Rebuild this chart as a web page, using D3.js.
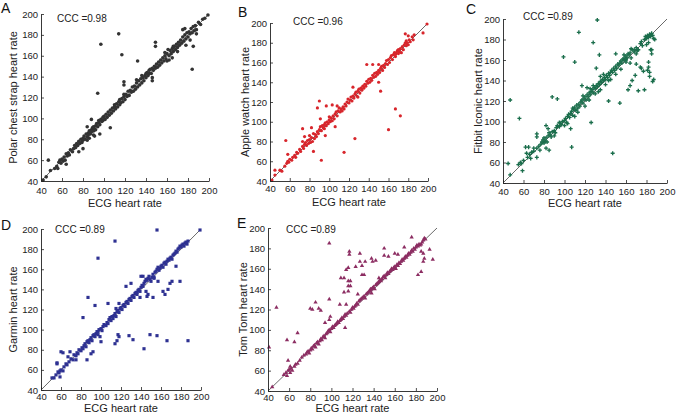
<!DOCTYPE html>
<html><head><meta charset="utf-8">
<script src="https://cdn.jsdelivr.net/npm/d3@7"></script>
<style>
html,body{margin:0;padding:0;background:#fff;}
svg{display:block;font-family:"Liberation Sans",Arial,Helvetica,sans-serif;}
</style></head>
<body><svg id="c" width="677" height="413"></svg>
<script>
const ticks = [40, 60, 80, 100, 120, 140, 160, 180, 200];
const panelLetters = ["A", "B", "C", "D", "E"];
const yTitles = ["Polar chest strap heart rate", "Apple watch heart rate", "Fitbit Iconic heart rate", "Garmin heart rate", "Tom Tom heart rate"];
const xTitle = "ECG heart rate";
const cccLabels = ["CCC =0.98", "CCC =0.96", "CCC =0.89", "CCC =0.89", "CCC =0.89"];

const polar = [[42,41],[45,44],[47,60],[49,50],[53,52],[55,54],[56,52],[57,58],[58,60],[59,57],[60,61],[61,59],[62,63],[63,60],[64,56],[64,66],[65,64],[66,67],[67,65],[68,70],[70,68],[71,71],[72,74],
[73,72],[74,76],[75,74],[76,68],[76,78],[77,76],[78,80],[79,77],[80,71],[80,81],[80,79],[81,83],[82,80],[83,85],[84,92],[84,82],[84,79],[85,86],[85,84],[86,88],[86,81],[87,85],[88,89],[88,99],[88,87],[89,91],[90,88],[90,84],[90,92],[91,90],[91,83],[92,93],[92,89],[93,95],[94,92],[94,124],[95,96],[95,98],[96,94],[96,85],[97,99],[97,171],[98,97],[99,101],[99,98],
[100,102],[101,99],[102,104],[103,101],[104,106],[105,103],[106,108],[106,91],[107,105],[108,110],[109,107],[110,111],[110,113],[111,109],[112,114],[113,111],[114,116],[114,181],[115,113],[115,118],[116,115],[117,119],[117,161],[118,116],[119,121],[119,123],[119,135],[119,132],[120,118],[121,123],[122,121],[123,126],[124,122],[125,127],[126,125],[127,130],[128,126],[129,131],[130,128],
[131,134],[131,137],[132,130],[132,155],[133,136],[134,132],[135,138],[136,134],[136,141],[137,139],[138,136],[139,141],[140,143],[140,139],[141,144],[142,141],[143,146],[143,143],[144,147],[145,143],[146,139],[146,136],[146,148],[147,146],[148,150],[149,148],[149,173],[149,169],[150,152],[151,149],[152,154],[153,151],[154,156],[155,153],[156,158],[157,155],[158,160],[158,163],[159,157],[160,162],[160,155],[161,166],[162,160],[162,156],[163,165],[164,162],[165,167],[165,158],[166,169],[166,164],[167,169],[168,166],[169,171],[170,168],[170,164],[171,173],[172,170],[173,175],[174,172],[175,178],[175,185],[176,174],[177,180],[177,186],[178,176],[178,170],[179,182],[180,178],[181,183],[182,181],[182,175],[183,186],[184,182],[184,147],[185,188],[185,169],[186,184],[187,189],[188,185],[188,181],[190,192],[192,190],[194,195],[196,196],[199,199]];

const apple = [[42,41],[45,46],[45,51],[50,51],[52,50],[55,55],[56,81],[57,58],[58,60],[58,67],[59,59],[60,62],[62,61],[63,64],[65,66],[66,64],[67,69],[68,68],[70,72],[71,70],[73,75],[73,93],[73,80],[74,73],[75,77],[75,85],[76,79],[77,76],[78,81],[79,78],[80,82],[80,86],[81,79],[82,84],[82,94],[83,80],[84,88],[84,70],[85,83],[86,87],[87,85],[88,90],[88,114],[89,88],[90,92],[90,121],[91,95],[91,103],[92,91],[92,61],[93,96],[94,94],[95,97],[95,93],[96,99],[96,86],[97,96],[97,116],[98,100],[99,98],[100,102],[100,105],[101,100],[102,104],[103,101],[103,117],[104,106],[105,103],[106,108],[106,95],[107,110],[108,106],[108,116],[109,111],[110,114],[111,110],[112,113],[113,111],[114,115],[115,113],[115,69],[116,118],[117,116],[118,120],[119,123],[120,119],[121,122],[122,125],[123,121],[124,126],[124,135],[125,124],[126,128],[126,83],[127,130],[128,126],[129,131],[129,125],[130,133],[131,129],[132,134],[133,132],[134,136],[135,134],[136,138],[137,136],[138,141],[138,158],[139,139],[140,143],[141,140],[142,144],[143,142],[144,147],[144,158],[145,145],[146,149],[147,146],[148,150],[149,148],[150,152],[150,158],[150,140],[151,150],[152,154],[152,131],[153,156],[154,152],[155,157],[156,155],[157,159],[158,162],[159,158],[160,163],[160,92],[161,160],[162,165],[163,167],[164,163],[165,168],[166,170],[167,166],[167,113],[167,168],[168,170],[169,172],[170,169],[170,173],[171,171],[172,174],[172,106],[173,170],[174,176],[175,173],[176,178],[177,180],[177,189],[178,177],[178,182],[179,180],[180,178],[180,187],[181,183],[182,181],[184,186],[185,183],[186,188],[195,190],[199,199]];

const fitbit = [[45,59],[47,48],[47,121],[55,58],[56,103],[57,60],[58,59],[59,52],[60,62],[62,75],[64,65],[65,75],[63,69],[66,68],[67,64],[68,70],[70,71],[70,74],[73,65],[73,74],[73,88],[73,85],[75,76],[76,72],[77,78],[78,80],[79,82],[80,79],[80,84],[81,81],[82,84],[82,96],[82,74],[83,80],[84,86],[84,93],[85,72],[85,89],[86,87],[87,85],[88,90],[88,124],[90,91],[90,86],[91,89],[92,94],[93,122],[93,96],[95,95],[95,99],[96,98],[97,97],[98,100],[99,163],[100,101],[100,96],[101,103],[102,99],[103,105],[103,98],[104,107],[105,104],[106,108],[106,93],[107,110],[107,75],[108,106],[108,113],[109,112],[110,114],[110,105],[110,158],[111,111],[112,116],[113,113],[113,109],[114,117],[114,187],[115,115],[116,119],[117,121],[117,135],[118,118],[118,125],[119,122],[120,124],[120,115],[121,121],[122,126],[122,133],[123,124],[124,128],[124,121],[125,126],[125,132],[126,129],[126,99],[127,131],[128,128],[128,135],[128,177],[129,133],[130,132],[130,127],[131,135],[131,152],[132,134],[132,199],[133,137],[133,129],[134,136],[134,165],[135,139],[135,131],[135,144],[136,138],[137,141],[138,140],[138,146],[139,143],[140,141],[140,136],[141,145],[142,143],[143,147],[143,140],[143,120],[144,145],[145,148],[145,141],[146,150],[147,148],[147,69],[148,152],[149,150],[150,154],[150,146],[150,166],[151,152],[152,156],[153,155],[154,157],[154,118],[155,159],[155,151],[156,157],[157,161],[158,160],[158,165],[159,162],[160,164],[160,160],[160,158],[161,162],[162,166],[162,131],[163,165],[164,157],[164,135],[164,167],[165,162],[165,171],[166,170],[166,140],[168,168],[168,170],[169,145],[170,172],[170,166],[170,156],[171,169],[172,170],[172,130],[174,176],[174,153],[175,152],[175,178],[176,174],[177,149],[178,180],[178,131],[179,183],[180,181],[181,184],[181,150],[182,182],[182,158],[182,153],[183,185],[183,148],[183,144],[184,183],[184,170],[185,186],[185,166],[186,184],[186,139],[187,181],[187,141],[188,180],[180,175],[182,177],[185,170]];

const garmin = [[51,52],[53,52],[55,55],[56,67],[56,66],[57,58],[58,57],[59,59],[59,53],[60,60],[60,78],[62,59],[62,77],[63,63],[65,66],[66,65],[67,73],[68,68],[69,78],[70,71],[72,70],[73,75],[75,74],[75,70],[76,77],[77,76],[78,80],[80,79],[81,82],[82,81],[82,112],[83,84],[84,86],[85,83],[86,70],[86,88],[87,89],[87,132],[88,87],[89,90],[90,92],[90,76],[91,89],[92,94],[92,78],[93,95],[94,93],[94,124],[95,96],[96,98],[97,95],[97,98],[97,171],[99,93],[100,88],[98,100],[100,101],[101,99],[102,103],[103,105],[105,104],[106,107],[107,106],[107,126],[108,110],[109,112],[110,109],[111,113],[112,111],[113,114],[114,116],[114,188],[114,86],[115,113],[115,121],[116,118],[116,89],[117,119],[117,95],[118,117],[118,126],[118,93],[119,121],[120,122],[121,120],[122,124],[123,125],[124,123],[125,127],[125,143],[126,128],[127,126],[128,130],[128,94],[129,131],[130,129],[130,146],[131,133],[132,134],[132,90],[133,132],[134,136],[135,137],[136,135],[136,137],[137,139],[138,140],[139,138],[139,132],[140,142],[140,153],[141,144],[142,143],[142,153],[143,146],[143,81],[144,148],[145,150],[145,138],[146,149],[146,133],[147,151],[147,135],[148,153],[149,150],[149,95],[150,148],[151,152],[152,155],[152,132],[153,151],[153,152],[154,157],[155,158],[156,160],[156,199],[156,94],[157,162],[157,148],[158,159],[159,161],[160,163],[161,164],[162,162],[162,138],[163,166],[164,167],[164,135],[165,165],[166,168],[166,89],[167,170],[167,140],[168,169],[169,171],[169,146],[170,172],[171,170],[171,148],[172,174],[173,175],[174,176],[175,178],[175,163],[176,177],[177,180],[178,181],[179,183],[179,148],[180,182],[181,184],[182,185],[183,183],[184,186],[185,187],[186,185],[187,188],[187,89],[199,199]];

const tomtom = [[41,83],[44,44],[48,122],[55,56],[57,58],[58,55],[58,90],[59,60],[59,70],[60,61],[61,58],[61,64],[62,62],[63,60],[65,64],[65,88],[66,66],[68,67],[68,97],[70,70],[72,73],[74,75],[76,76],[77,78],[78,79],[79,77],[80,80],[80,121],[81,82],[82,81],[82,120],[83,84],[84,85],[85,83],[85,127],[86,87],[87,88],[88,86],[88,121],[89,89],[90,91],[90,119],[91,90],[92,93],[93,94],[94,92],[94,107],[95,96],[96,97],[97,99],[98,100],[98,185],[98,110],[98,130],[99,98],[99,113],[100,101],[101,103],[102,102],[103,104],[104,105],[105,106],[106,108],[107,107],[108,109],[108,125],[109,110],[109,151],[110,112],[111,111],[112,113],[112,151],[113,102],[113,115],[114,114],[114,159],[114,125],[115,116],[116,161],[116,143],[116,148],[116,138],[117,177],[117,174],[117,118],[118,117],[118,143],[118,148],[112,137],[119,120],[120,122],[121,121],[122,123],[123,124],[123,162],[124,126],[125,125],[125,135],[126,128],[127,129],[127,175],[127,167],[128,130],[129,131],[129,163],[129,154],[130,132],[131,133],[131,154],[132,131],[132,167],[133,135],[134,136],[135,137],[136,138],[137,139],[137,140],[138,140],[138,170],[138,136],[139,141],[139,167],[140,142],[141,140],[142,144],[142,168],[143,145],[144,146],[145,147],[145,151],[146,149],[147,148],[148,150],[149,152],[150,153],[150,180],[150,173],[151,151],[152,154],[153,156],[154,155],[154,172],[155,157],[156,158],[157,160],[158,159],[159,161],[160,162],[160,175],[161,160],[162,164],[163,163],[163,174],[164,166],[165,165],[166,167],[167,169],[168,168],[169,170],[169,181],[170,172],[171,171],[172,173],[173,175],[174,174],[175,176],[176,178],[176,191],[177,177],[178,180],[179,179],[180,181],[181,183],[182,182],[182,154],[183,184],[184,183],[185,184],[185,177],[185,157],[186,186],[187,175],[187,167],[187,188],[188,190],[188,170],[189,189],[193,179],[196,169]];

const seriesData = [polar, apple, fitbit, garmin, tomtom];
const colors = ["#333333", "#d8262c", "#1b6e4c", "#2e3192", "#8c2d62"];
const markers = ["circle", "circle", "cross", "square", "triangle"];

// layout: plot boxes in pixels
const boxes = [
  {x0:41, x1:209, yT:14, yB:181, pad:6.5, xt:207, letter:[1,13], ytx:13, ccc:[57,22]},
  {x0:270, x1:428, yT:23, yB:181, pad:4, xt:206, letter:[238,17], ytx:245, ccc:[293,25]},
  {x0:503, x1:667, yT:19, yB:183, pad:5, xt:207, letter:[466,14], ytx:478, ccc:[523,20]},
  {x0:41, x1:201, yT:229, yB:390, pad:3.5, xt:411.5, letter:[1,230], ytx:13, ccc:[55,233]},
  {x0:268, x1:437, yT:228, yB:391, pad:3, xt:411.5, letter:[237,228], ytx:243, ccc:[286,233]}
];

const svg = d3.select("#c");
svg.append("rect").attr("width",677).attr("height",413).attr("fill","#fff");

boxes.forEach((b, i) => {
  const x = d3.scaleLinear().domain([40,200]).range([b.x0, b.x1]);
  const y = d3.scaleLinear().domain([40,200]).range([b.yB, b.yT]);
  const g = svg.append("g");

  g.append("line")
    .attr("x1", x(40)).attr("y1", y(40)).attr("x2", x(200)).attr("y2", y(200))
    .attr("stroke", "#444").attr("stroke-width", 0.8);

  const pts = g.append("g").attr("fill", colors[i]);
  const data = seriesData[i];
  if (markers[i] === "circle") {
    pts.selectAll("circle").data(data).join("circle")
      .attr("cx", d => x(d[0])).attr("cy", d => y(d[1]))
      .attr("r", i === 0 ? 1.8 : 1.6);
  } else {
    const type = markers[i] === "cross" ? d3.symbolCross : markers[i] === "square" ? d3.symbolSquare : d3.symbolTriangle;
    const size = markers[i] === "cross" ? 9 : markers[i] === "square" ? 10 : 8;
    const sym = d3.symbol().type(type).size(size);
    pts.selectAll("path").data(data).join("path")
      .attr("transform", d => `translate(${x(d[0])},${y(d[1])})`)
      .attr("d", sym);
  }

  const xa = g.append("g").attr("transform", `translate(0,${b.yB})`)
    .call(d3.axisBottom(x).tickValues(ticks).tickSizeInner(-3).tickSizeOuter(0).tickPadding(b.pad));
  const ya = g.append("g").attr("transform", `translate(${b.x0},0)`)
    .call(d3.axisLeft(y).tickValues(ticks).tickSizeInner(-3).tickSizeOuter(0).tickPadding(3));
  [xa, ya].forEach(a => {
    a.select(".domain").attr("stroke", "#222").attr("stroke-width", 0.9);
    a.selectAll(".tick line").attr("stroke", "#222").attr("stroke-width", 0.8);
    a.selectAll(".tick text").attr("fill", "#222").attr("font-size", 9.5)
      .attr("font-family", '"Liberation Sans",Arial,sans-serif');
  });

  g.append("text").attr("x", (b.x0 + b.x1) / 2).attr("y", b.xt)
    .attr("text-anchor", "middle").attr("font-size", 11).attr("fill", "#222").text(xTitle);
  g.append("text").attr("transform", `translate(${b.ytx + 3.5},${(b.yT + b.yB) / 2}) rotate(-90)`)
    .attr("text-anchor", "middle").attr("font-size", 11).attr("fill", "#222").text(yTitles[i]);

  g.append("text").attr("x", b.ccc[0]).attr("y", b.ccc[1])
    .attr("font-size", 10).attr("fill", "#222").text(cccLabels[i]);

  g.append("text").attr("x", b.letter[0]).attr("y", b.letter[1])
    .attr("font-size", 14).attr("fill", "#111").text(panelLetters[i]);
});
</script></body></html>
